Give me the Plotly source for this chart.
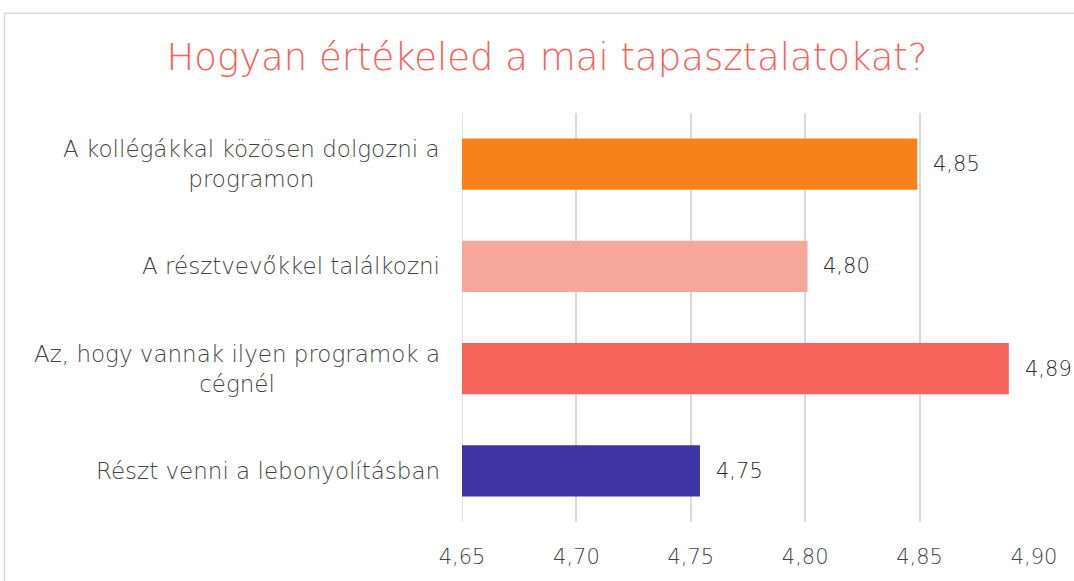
import plotly.graph_objects as go

categories = [
    "A kollégákkal közösen dolgozni a<br>programon",
    "A résztvevőkkel találkozni",
    "Az, hogy vannak ilyen programok a<br>cégnél",
    "Részt venni a lebonyolításban",
]
values = [4.849, 4.801, 4.889, 4.754]
value_labels = ["4,85", "4,80", "4,89", "4,75"]
colors = ["#F7821B", "#F5A79A", "#F5635A", "#4033A6"]
tick_vals = [4.65, 4.70, 4.75, 4.80, 4.85, 4.90]
tick_text = ["4,65", "4,70", "4,75", "4,80", "4,85", "4,90"]
title_text = "Hogyan értékeled a mai tapasztalatokat?"

FONT = "'DejaVu Sans', 'Open Sans', sans-serif"

fig = go.Figure()
fig.add_trace(go.Bar(
    x=values, y=categories, orientation="h",
    marker=dict(color=colors, line=dict(width=0)),
    width=0.5, hoverinfo="x+y",
))

annotations = []
for cat, v, lab in zip(categories, values, value_labels):
    annotations.append(dict(
        x=v, y=cat, xref="x", yref="y", text=lab, showarrow=False,
        xanchor="left", xshift=14, font=dict(family=FONT, size=21, color="#2E2E2E", weight=300),
    ))
    annotations.append(dict(
        x=0, y=cat, xref="paper", yref="y", text=cat, showarrow=False,
        xanchor="right", xshift=-20, align="center",
        font=dict(family=FONT, size=23, color="#444444", weight=300),
    ))

L, R, T, B = 462, 40, 113, 54
W, H = 1074, 581
pw, ph = W - L - R, H - T - B

fig.update_layout(
    width=W, height=H,
    margin=dict(l=L, r=R, t=T, b=B),
    paper_bgcolor="white", plot_bgcolor="white",
    showlegend=False,
    title=dict(text=title_text, x=547 / W, xanchor="center", y=1 - 57 / H, yanchor="middle",
               font=dict(family=FONT, size=37, color="#F4645A", weight=300)),
    xaxis=dict(range=[4.65, 4.90], tickvals=tick_vals, ticktext=tick_text,
               showgrid=True, gridcolor="#D9D9D9", gridwidth=1.5,
               zeroline=False, showline=False,
               ticks="outside", ticklen=16, tickcolor="rgba(0,0,0,0)",
               tickfont=dict(family=FONT, size=21, color="#444444", weight=300)),
    yaxis=dict(categoryorder="array", categoryarray=categories[::-1],
               showticklabels=False, showgrid=False, zeroline=False, showline=False,
               range=[-0.5, 3.5]),
    annotations=annotations,
    shapes=[
        dict(type="rect", xref="paper", yref="paper",
             x0=(4.5 - L) / pw, x1=(1090 - L) / pw,
             y0=-(600 - (H - B)) / ph, y1=1 + (T - 12) / ph,
             line=dict(color="#D9D9D9", width=1.5), fillcolor="rgba(0,0,0,0)",
             layer="below"),
        dict(type="line", xref="x", yref="paper", x0=tick_vals[0], x1=tick_vals[0],
             y0=0, y1=1, line=dict(color="#D9D9D9", width=1.5), layer="below"),
    ],
)

fig.write_html("out.html", config={"displayModeBar": False},
               post_script="document.body.style.margin='0';document.body.style.overflow='hidden';")
